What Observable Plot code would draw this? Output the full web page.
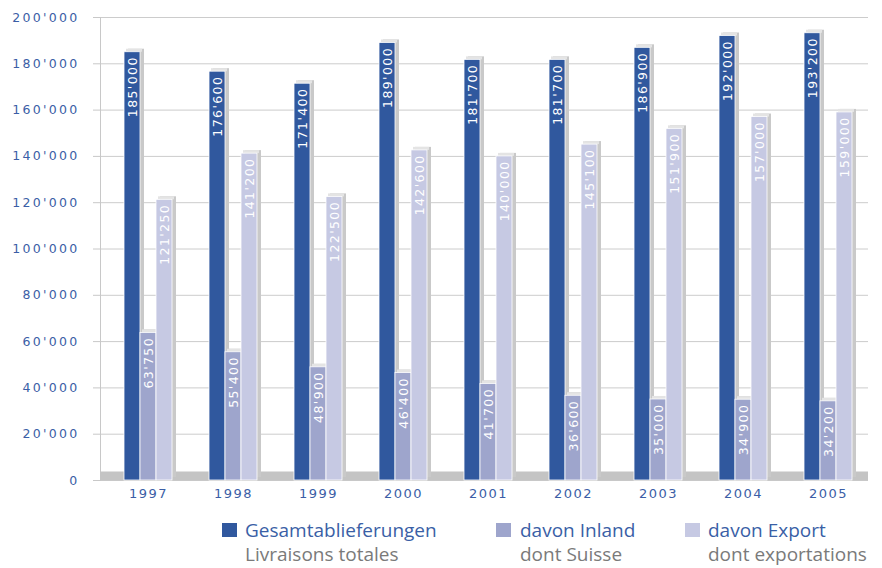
<!DOCTYPE html>
<html>
<head>
<meta charset="utf-8">
<script src="https://cdn.jsdelivr.net/npm/d3@7"></script>
<script src="https://cdn.jsdelivr.net/npm/@observablehq/plot@0.6"></script>
<style>
  html, body { margin: 0; padding: 0; background: #fff; }
  #wrap { position: relative; width: 882px; height: 568px; overflow: hidden; }
  #chart svg { display: block; }
  g[aria-label="y-axis tick label"] text { letter-spacing: 2.3px; }
  g[aria-label="x-axis tick label"] text { letter-spacing: 1.5px; }
  .barlab text { letter-spacing: 1.4px; }
  .leg { position: absolute; font-family: "Open Sans", sans-serif; font-size: 19px; line-height: 24px; white-space: nowrap; }
  .leg .de { color: #3a5fa6; }
  .leg .fr { color: #7a7a7a; }
  .sw { position: absolute; width: 15px; height: 14px; }
</style>
</head>
<body>
<div id="wrap">
  <div id="chart"></div>
  <div id="legend"></div>
</div>
<script>
const years = ["1997", "1998", "1999", "2000", "2001", "2002", "2003", "2004", "2005"];
const total = [185000, 176600, 171400, 189000, 181700, 181700, 186900, 192000, 193200];
const inland = [63750, 55400, 48900, 46400, 41700, 36600, 35000, 34900, 34200];
const exportV = [121250, 141200, 122500, 142600, 140000, 145100, 151900, 157000, 159000];
const seriesDe = ["Gesamtablieferungen", "davon Inland", "davon Export"];
const seriesFr = ["Livraisons totales", "dont Suisse", "dont exportations"];
const colors = ["#30589e", "#9ea5cc", "#c6c9e3"];
const yTicks = [0, 20000, 40000, 60000, 80000, 100000, 120000, 140000, 160000, 180000, 200000];

const fmt = d3.formatLocale({decimal: ".", thousands: "'", grouping: [3], currency: ["", ""]}).format(",");
const seriesVals = [total, inland, exportV];
const rows = seriesVals.map((vals) => years.map((y, i) => ({year: y, value: vals[i]})));

const blue = "#3b5ea6";
const insets = [[0, 32], [16, 16], [32, 0]];
const offs = [-16, 0, 16];

const marks = [
  Plot.gridY(yTicks, {stroke: "#cccccc", strokeOpacity: 1}),
  Plot.frame({anchor: "left", stroke: "#c8c8c8"}),
  Plot.ruleY([0], {stroke: "#c4c4c4", strokeWidth: 9, dy: -4.5}),
  Plot.axisY({ticks: yTicks, tickFormat: fmt, tickSize: 7, tickPadding: 14, stroke: "#c8c8c8", fill: blue, fontSize: 12.5, fontFamily: "DejaVu Sans"}),
  Plot.axisX({tickSize: 0, tickPadding: 8, fill: blue, fontSize: 13, fontFamily: "DejaVu Sans"})
];
// side/top faces (3D shading)
rows.forEach((r, s) => {
  marks.push(Plot.barY(r, {x: "year", y: "value", fill: "#c9c9c9", insetLeft: insets[s][0], insetRight: insets[s][1], dx: 4, dy: -3}));
});
rows.forEach((r, s) => {
  marks.push(Plot.barY(r, {x: "year", y1: "value", y2: "value", fill: "#e4e4e4", insetLeft: insets[s][0], insetRight: insets[s][1], insetTop: -3, dx: 2}));
});
// front faces
rows.forEach((r, s) => {
  marks.push(Plot.barY(r, {x: "year", y: "value", fill: colors[s], stroke: "white", strokeWidth: 0.8, insetLeft: insets[s][0], insetRight: insets[s][1]}));
});
// value labels
rows.forEach((r, s) => {
  marks.push(Plot.text(r, {x: "year", y: "value", text: (d) => fmt(d.value), rotate: -90, textAnchor: "end", dx: offs[s], dy: 4, fill: "white", fontSize: 12.5, fontFamily: "DejaVu Sans", className: "barlab"}));
});

const chart = Plot.plot({
  width: 882,
  height: 508,
  marginLeft: 100,
  marginRight: 14,
  marginTop: 17,
  marginBottom: 28,
  style: {background: "white", fontFamily: "DejaVu Sans"},
  x: {type: "band", domain: years, paddingInner: 0.44, paddingOuter: 0.206, align: 0.595, label: null},
  y: {domain: [0, 200000], label: null},
  marks
});
document.getElementById("chart").appendChild(chart);

const legend = document.getElementById("legend");
const swX = [222, 496, 685];
const txX = [245, 520, 708];
seriesDe.forEach((name, i) => {
  const sw = document.createElement("div");
  sw.className = "sw";
  sw.style.left = swX[i] + "px";
  sw.style.top = "523px";
  sw.style.background = colors[i];
  legend.appendChild(sw);
  const t = document.createElement("div");
  t.className = "leg";
  t.style.left = txX[i] + "px";
  t.style.top = "518px";
  t.innerHTML = `<div class="de">${name}</div><div class="fr">${seriesFr[i]}</div>`;
  legend.appendChild(t);
});
</script>
</body>
</html>
